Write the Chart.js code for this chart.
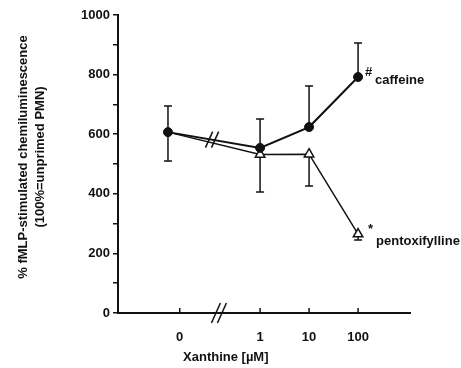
<!DOCTYPE html>
<html>
<head>
<meta charset="utf-8">
<script src="https://cdn.jsdelivr.net/npm/chart.js@4/dist/chart.umd.min.js"></script>
<style>
    html, body { margin: 0; padding: 0; background: #fff; }
    #wrap { width: 461px; height: 368px; }
</style>
</head>
<body>
<div id="wrap"><canvas id="mainChart"></canvas></div>
<script>
// Xanthine dose (µM), shown on a broken log axis
const doseLabels = ['0', '1', '10', '100'];
const doseX = [-1.88, 0, 1, 2];      // log10 position, "0" sits left of the break
const tickX = [-1.64, 0, 1, 2];

// % fMLP-stimulated chemiluminescence
const caffeine = [607, 554, 624, 792];
const caffeineErrUp = [88, 97, 138, 114];
const caffeineErrDown = [97, 0, 0, 0];

const pentoxifylline = [607, 532, 533, 265];
const pentoxErrUp = [0, 0, 0, 0];
const pentoxErrDown = [0, 126, 107, 20];

const INK = '#111';
const FONT = 'bold 13px "Liberation Sans", Arial, sans-serif';

const toPoints = (ys) => ys.map((y, i) => ({ x: doseX[i], y }));

// error bars, axis breaks, inner x ticks and the text labels
const extras = {
    id: 'extras',
    beforeDatasetsDraw(chart) {
        const { ctx, scales: { x, y } } = chart;
        const bars = [
            [caffeine, caffeineErrUp, caffeineErrDown],
            [pentoxifylline, pentoxErrUp, pentoxErrDown]
        ];
        ctx.save();
        ctx.strokeStyle = INK;
        ctx.lineWidth = 1.5;
        bars.forEach(([vals, up, down]) => {
            vals.forEach((v, i) => {
                const px = x.getPixelForValue(doseX[i]);
                [up[i], -down[i]].forEach(e => {
                    if (!e) return;
                    const y0 = y.getPixelForValue(v);
                    const y1 = y.getPixelForValue(v + e);
                    ctx.beginPath();
                    ctx.moveTo(px, y0);
                    ctx.lineTo(px, y1);
                    ctx.moveTo(px - 4, y1);
                    ctx.lineTo(px + 4, y1);
                    ctx.stroke();
                });
            });
        });
        ctx.restore();
    },
    afterDraw(chart) {
        const { ctx, chartArea, scales: { x, y } } = chart;
        ctx.save();
        ctx.strokeStyle = INK;
        ctx.fillStyle = INK;

        // small ticks pointing up from the x axis
        ctx.lineWidth = 1.5;
        x.ticks.forEach(t => {
            const px = x.getPixelForValue(t.value);
            ctx.beginPath();
            ctx.moveTo(px, chartArea.bottom);
            ctx.lineTo(px, chartArea.bottom - 5);
            ctx.stroke();
        });

        const slashes = (cx, cy, h) => {
            ctx.lineWidth = 1.5;
            [-3, 3].forEach(dx => {
                ctx.beginPath();
                ctx.moveTo(cx + dx - h * 0.45, cy + h);
                ctx.lineTo(cx + dx + h * 0.45, cy - h);
                ctx.stroke();
            });
        };

        // break on the data line between 0 and 1
        const bx = -0.98;
        const t = (bx - doseX[0]) / (doseX[1] - doseX[0]);
        const by = caffeine[0] + t * (caffeine[1] - caffeine[0]);
        slashes(x.getPixelForValue(bx), y.getPixelForValue(by), 8);
        // break on the x axis
        slashes(x.getPixelForValue(-0.84), chartArea.bottom, 10);

        // series labels
        ctx.font = FONT;
        ctx.textBaseline = 'middle';
        ctx.textAlign = 'left';
        const cx = x.getPixelForValue(doseX[3]);
        const cy = y.getPixelForValue(caffeine[3]);
        ctx.fillText('#', cx + 7, cy - 5);
        ctx.fillText('caffeine', cx + 17, cy + 3);
        const py = y.getPixelForValue(pentoxifylline[3]);
        ctx.fillText('*', cx + 10, py - 5);
        ctx.fillText('pentoxifylline', cx + 18, py + 7);

        // axis titles
        ctx.textAlign = 'center';
        ctx.fillText('Xanthine [µM]', x.getPixelForValue(-0.7), chartArea.bottom + 44);
        ctx.translate(23, 157);
        ctx.rotate(-Math.PI / 2);
        ctx.fillText('% fMLP-stimulated chemiluminescence', 0, 0);
        ctx.fillText('(100%=unprimed PMN)', 0, 17);
        ctx.restore();
    }
};

Chart.defaults.font.family = '"Liberation Sans", Arial, sans-serif';
Chart.defaults.font.size = 13;
Chart.defaults.font.weight = 'bold';
Chart.defaults.color = INK;

new Chart(document.getElementById('mainChart').getContext('2d'), {
    type: 'line',
    data: {
        datasets: [
            {
                label: 'caffeine',
                data: toPoints(caffeine),
                borderColor: INK,
                borderWidth: 2,
                pointStyle: 'circle',
                pointRadius: 4.5,
                pointBorderWidth: 1,
                pointBackgroundColor: INK,
                pointBorderColor: INK,
                fill: false
            },
            {
                label: 'pentoxifylline',
                data: toPoints(pentoxifylline),
                borderColor: INK,
                borderWidth: 1.5,
                pointStyle: 'triangle',
                pointRadius: c => (c.dataIndex === 0 ? 0 : 5.5),
                pointBackgroundColor: '#fff',
                pointBorderColor: INK,
                pointBorderWidth: 1.5,
                fill: false
            }
        ]
    },
    options: {
        responsive: true,
        maintainAspectRatio: false,
        animation: false,
        layout: { padding: { top: 15, right: 51, bottom: 0, left: 0 } },
        scales: {
            x: {
                type: 'linear',
                min: -2.9,
                max: 3.06,
                afterBuildTicks: s => { s.ticks = tickX.map(v => ({ value: v })); },
                afterFit: s => { s.height = 55; },
                grid: { display: false },
                border: { display: true, color: INK, width: 2 },
                ticks: {
                    autoSkip: false,
                    maxRotation: 0,
                    padding: 9,
                    callback: (v, i) => doseLabels[i]
                }
            },
            y: {
                min: 0,
                max: 1000,
                afterFit: s => { s.width = 118; },
                grid: { drawOnChartArea: false, color: INK, lineWidth: 1.5, tickLength: 5 },
                border: { display: true, color: INK, width: 2 },
                ticks: {
                    stepSize: 100,
                    padding: 3,
                    callback: v => (v % 200 === 0 ? v : '')
                }
            }
        },
        plugins: {
            legend: { display: false },
            tooltip: { enabled: false }
        }
    },
    plugins: [extras]
});
</script>
</body>
</html>
